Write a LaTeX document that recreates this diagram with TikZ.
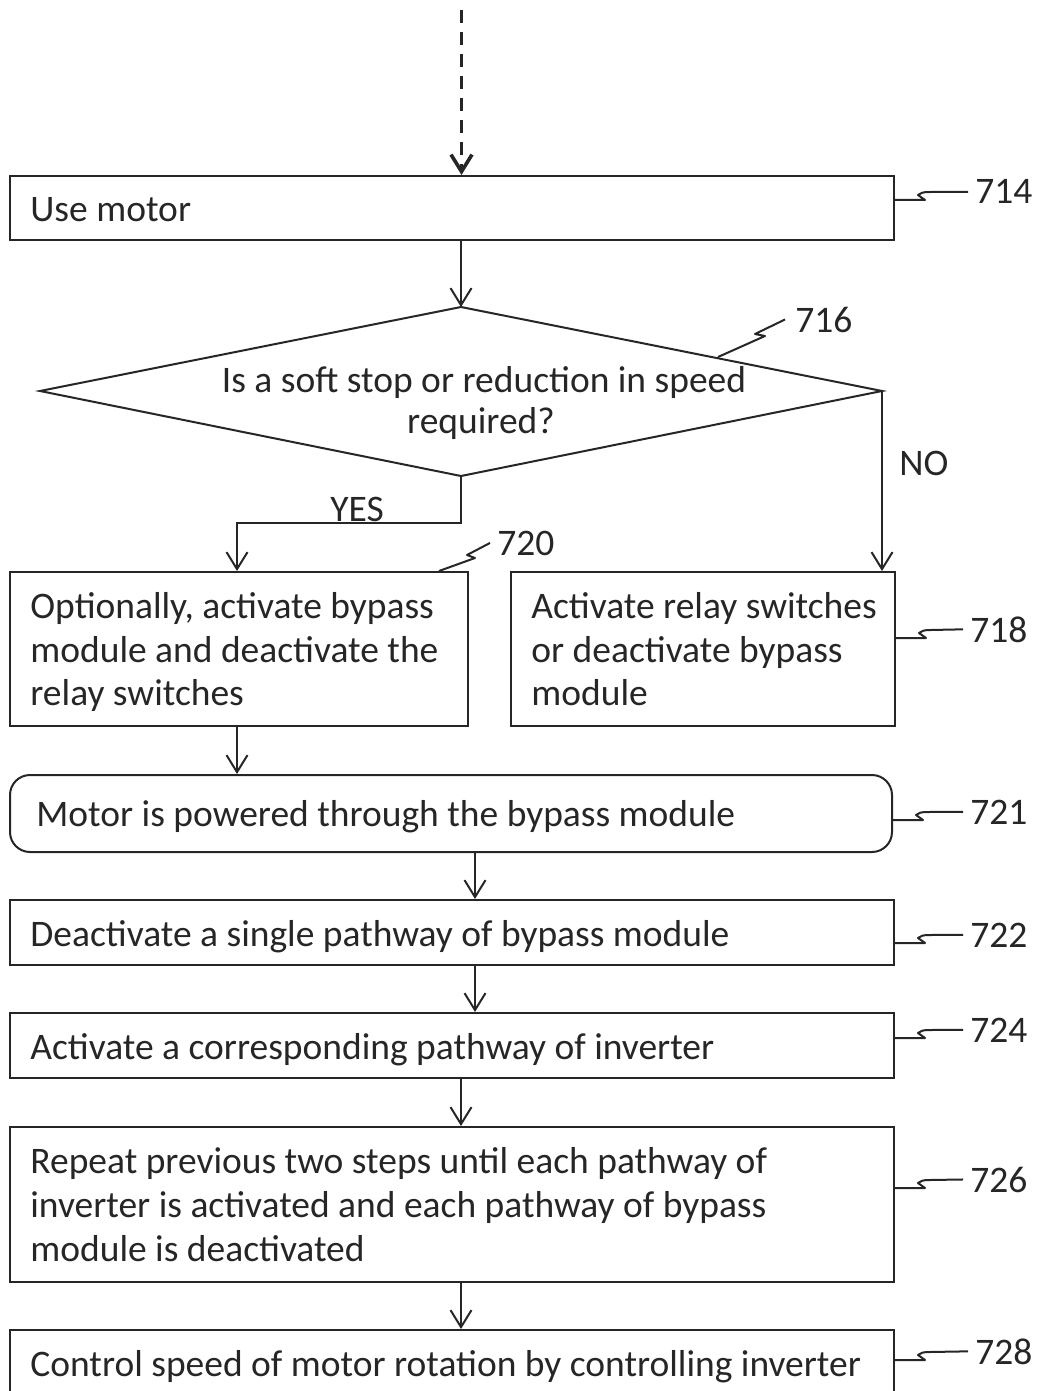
\documentclass[tikz,border=0pt]{standalone}
\usepackage{fontspec}
\setmainfont{Carlito}
\usetikzlibrary{arrows.meta,fit}
\definecolor{ink}{HTML}{262626}
\begin{document}
\begin{tikzpicture}[x=0.5pt,y=-0.5pt,
  every node/.style={font=\fontsize{18.75pt}{22pt}\selectfont, text=ink},
  box/.style={draw=ink, line width=1pt, inner sep=0pt},
  txt/.style={anchor=base west, inner sep=0pt},
  ctxt/.style={anchor=base, inner sep=0pt},
  lbl/.style={anchor=base west, inner sep=0pt},
  flow/.style={draw=ink, line width=1pt, -{Straight Barb[length=8.5pt,width=10.5pt]}},
  leader/.style={draw=ink, line width=1pt, line join=round},
]
\useasboundingbox (0,0) rectangle (1038,1391);
\clip (0,0) rectangle (1038,1391);

% boxes
\node[box, fit={(10,176)(894,240)}] (b714) {};
\node[box, fit={(10,572)(468,726)}] (b720) {};
\node[box, fit={(511,572)(895,726)}] (b718) {};
\node[box, rounded corners=10pt, fit={(10,775)(892,852)}] (b721) {};
\node[box, fit={(10,900)(894,965)}] (b722) {};
\node[box, fit={(10,1013)(894,1078)}] (b724) {};
\node[box, fit={(10,1127)(894,1282)}] (b726) {};
\node[box, fit={(10,1330)(894,1440)}] (b728) {};

% diamond
\coordinate (dT) at (461,307);
\coordinate (dL) at (40,391);
\coordinate (dR) at (882,391);
\coordinate (dB) at (461,476);
\draw[draw=ink, line width=1pt, line join=miter] (dT) -- (dR) -- (dB) -- (dL) -- cycle;

% texts
\node[txt] (t714) at (30,222) {Use motor};
\node[ctxt] (q1) at (484,392) {Is a soft stop or reduction in speed};
\node[ctxt] (q2) at (481,433) {required?};
\node[txt] (t720a) at (30,618) {Optionally, activate bypass};
\node[txt] (t720b) at (30,662) {module and deactivate the};
\node[txt] (t720c) at (30,705) {relay switches};
\node[txt] (t718a) at (531,618) {Activate relay switches};
\node[txt] (t718b) at (531,662) {or deactivate bypass};
\node[txt] (t718c) at (531,705) {module};
\node[txt] (t721) at (36,826) {Motor is powered through the bypass module};
\node[txt] (t722) at (30,946) {Deactivate a single pathway of bypass module};
\node[txt] (t724) at (30,1059) {Activate a corresponding pathway of inverter};
\node[txt] (t726a) at (30,1173) {Repeat previous two steps until each pathway of};
\node[txt] (t726b) at (30,1217) {inverter is activated and each pathway of bypass};
\node[txt] (t726c) at (30,1261) {module is deactivated};
\node[txt] (t728) at (30,1376) {Control speed of motor rotation by controlling inverter};

\node[lbl] (yes) at (330,521) {YES};
\node[lbl] (no) at (899,475) {NO};

% connectors
\coordinate (start) at (461.5,10);
\coordinate (yb) at (237,523);
\coordinate (cx) at (475,0);
\draw[flow, line width=1.8pt, dash pattern=on 6.5pt off 4.5pt] (start) -- (b714.north -| start);
\draw[flow] (b714.south -| dT) -- (dT);
\draw[flow] (dB) -- (dB |- yb) -- (yb) -- (b720.north -| yb);
\draw[flow] (dR) -- (b718.north -| dR);
\draw[flow] (b720.south -| yb) -- (b721.north -| yb);
\draw[flow] (b721.south -| cx) -- (b722.north -| cx);
\draw[flow] (b722.south -| cx) -- (b724.north -| cx);
\draw[flow] (b724.south -| dT) -- (b726.north -| dT);
\draw[flow] (b726.south -| dT) -- (b728.north -| dT);

% reference labels
\node[lbl] (l714) at (975,204) {714};
\node[lbl] (l716) at (795,332) {716};
\node[lbl] (l720) at (497,555) {720};
\node[lbl] (l718) at (970,642) {718};
\node[lbl] (l721) at (970,824) {721};
\node[lbl] (l722) at (970,947) {722};
\node[lbl] (l724) at (970,1042) {724};
\node[lbl] (l726) at (970,1192) {726};
\node[lbl] (l728) at (975,1364) {728};

\tikzset{hook/.style={to path={-- ++(30,0) -- ++(-7,-5) .. controls ++(3,-2) and ++(-8,0) .. ++(12,-3) -- (\tikztotarget)}}}
\draw[leader] (b714.east |- 0,200) to[hook] ([xshift=-3.5pt]l714.west);
\draw[leader] (b718.east |- 0,638) to[hook] ([xshift=-3.5pt]l718.west);
\draw[leader] (b721.east |- 0,820) to[hook] ([xshift=-3.5pt]l721.west);
\draw[leader] (b722.east |- 0,943) to[hook] ([xshift=-3.5pt]l722.west);
\draw[leader] (b724.east |- 0,1038) to[hook] ([xshift=-3.5pt]l724.west);
\draw[leader] (b726.east |- 0,1188) to[hook] ([xshift=-3.5pt]l726.west);
\draw[leader] (b728.east |- 0,1360) to[hook] ([xshift=-3.5pt]l728.west);
\draw[leader] (718,357) -- (765,336) -- (755,334) -- ([xshift=-5pt]l716.west);
\draw[leader] ([xshift=-15pt]b720.north east) -- (475,558) -- (467,555) -- ([xshift=-3.5pt]l720.west);
\end{tikzpicture}
\end{document}
